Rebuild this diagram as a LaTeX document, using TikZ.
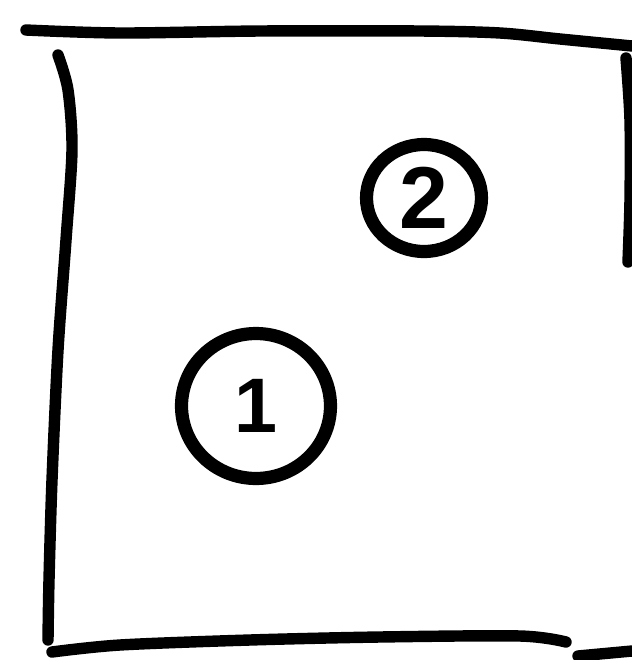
\documentclass[tikz,border=0pt]{standalone}
\usepackage{fontspec}
\setsansfont{Liberation Sans}
\usepackage{tikz}
\usetikzlibrary{shapes.geometric}
\tikzset{
  edge/.style={line width=6.5pt, line cap=round, line join=round},
  marker/.style={ellipse, draw, line width=7.5pt, inner sep=0pt,
    font=\sffamily\bfseries\fontsize{44}{44}\selectfont}
}

\begin{document}
\begin{tikzpicture}[x=0.02cm, y=-0.02cm]
  \useasboundingbox (0,0) rectangle (632,660);
  \fill[white] (0,0) rectangle (632,660);
  % Outline of the box
  \draw[edge] plot[smooth] coordinates
    {(26,30) (120,33) (260,31) (420,31) (500,33) (560,39) (632,46)};
  \draw[edge] plot[smooth] coordinates
    {(58,55) (68,90) (72,150) (66,240) (58,350) (52,480) (49,580) (48,640)};
  \draw[edge] plot[smooth] coordinates
    {(52,652) (120,645) (250,640) (380,637) (520,636) (566,642)};
  \draw[edge] (578,656) -- (632,651);
  \draw[edge] plot[smooth] coordinates {(626,58) (630,120) (630,200) (628,262)};
  % Numbered circles
  \node[marker, minimum width=2.98cm, minimum height=2.9cm] (one) at (256,406) {1};
  \node[marker, minimum width=2.3cm, minimum height=2.14cm,
    font=\sffamily\bfseries\fontsize{50}{50}\selectfont] (two) at (424,198) {2};
\end{tikzpicture}
\end{document}
